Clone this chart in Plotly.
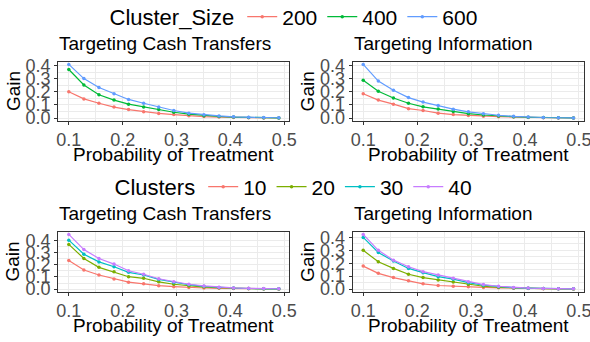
import plotly.graph_objects as go

# ---------------- data ----------------
prob = [0.1, 0.128, 0.156, 0.184, 0.211, 0.239, 0.267, 0.295, 0.323, 0.351,
        0.379, 0.406, 0.434, 0.462, 0.49]

size_levels = ["200", "400", "600"]
cash_size = {
    "200": [0.200, 0.146, 0.113, 0.084, 0.065, 0.048, 0.036, 0.027, 0.018, 0.012, 0.008, 0.005, 0.003, 0.002, 0.001],
    "400": [0.369, 0.252, 0.178, 0.137, 0.106, 0.084, 0.065, 0.045, 0.030, 0.019, 0.013, 0.008, 0.005, 0.003, 0.002],
    "600": [0.408, 0.300, 0.233, 0.185, 0.142, 0.113, 0.084, 0.058, 0.038, 0.026, 0.017, 0.010, 0.006, 0.004, 0.003],
}
info_size = {
    "200": [0.185, 0.137, 0.106, 0.072, 0.058, 0.038, 0.027, 0.020, 0.015, 0.011, 0.008, 0.005, 0.003, 0.002, 0.001],
    "400": [0.288, 0.204, 0.153, 0.113, 0.086, 0.070, 0.050, 0.034, 0.024, 0.016, 0.011, 0.007, 0.004, 0.003, 0.002],
    "600": [0.408, 0.281, 0.211, 0.156, 0.122, 0.096, 0.068, 0.048, 0.034, 0.022, 0.014, 0.008, 0.005, 0.003, 0.002],
}

cluster_levels = ["10", "20", "30", "40"]
cash_clusters = {
    "10": [0.236, 0.157, 0.116, 0.084, 0.057, 0.043, 0.028, 0.020, 0.013, 0.009, 0.006, 0.004, 0.002, 0.001, 0.001],
    "20": [0.368, 0.252, 0.179, 0.143, 0.102, 0.089, 0.060, 0.040, 0.026, 0.017, 0.011, 0.007, 0.004, 0.002, 0.001],
    "30": [0.403, 0.287, 0.224, 0.184, 0.138, 0.116, 0.080, 0.055, 0.036, 0.023, 0.014, 0.009, 0.005, 0.003, 0.002],
    "40": [0.450, 0.325, 0.252, 0.206, 0.151, 0.122, 0.085, 0.060, 0.040, 0.026, 0.016, 0.010, 0.006, 0.004, 0.003],
}
info_clusters = {
    "10": [0.178, 0.122, 0.089, 0.064, 0.041, 0.028, 0.022, 0.018, 0.013, 0.010, 0.007, 0.005, 0.003, 0.002, 0.001],
    "20": [0.300, 0.211, 0.160, 0.115, 0.089, 0.071, 0.054, 0.036, 0.022, 0.014, 0.009, 0.006, 0.004, 0.002, 0.001],
    "30": [0.400, 0.283, 0.217, 0.160, 0.127, 0.096, 0.077, 0.050, 0.030, 0.019, 0.011, 0.007, 0.004, 0.003, 0.002],
    "40": [0.423, 0.300, 0.224, 0.173, 0.135, 0.109, 0.084, 0.057, 0.035, 0.022, 0.013, 0.008, 0.005, 0.003, 0.002],
}

size_colors = ["#F8766D", "#00BA38", "#619CFF"]
cluster_colors = ["#F8766D", "#7CAE00", "#00BFC4", "#C77CFF"]

panel_titles = ["Targeting Cash Transfers", "Targeting Information",
                "Targeting Cash Transfers", "Targeting Information"]
x_title = "Probability of Treatment"
y_title = "Gain"
x_ticks = [0.1, 0.2, 0.3, 0.4, 0.5]
y_ticks = [0.0, 0.1, 0.2, 0.3, 0.4]

# ---------------- layout geometry ----------------
# figure is slightly wider than the 590px window so the last tick label is cut like the original
W, H = 600, 342
FONT = "Liberation Sans, Arial, sans-serif"

def px_x(v):
    return v / W

def px_y(v):
    return 1 - v / H

# panel boxes in pixels (left, right, top, bottom)
panels = [
    (58.3, 289.3, 61.7, 120.7),
    (352.7, 584.0, 61.7, 120.7),
    (58.3, 289.3, 231.7, 291.7),
    (352.7, 584.0, 231.7, 291.7),
]

fig = go.Figure()

datasets = [
    (cash_size, size_levels, size_colors, "legend"),
    (info_size, size_levels, size_colors, "legend"),
    (cash_clusters, cluster_levels, cluster_colors, "legend2"),
    (info_clusters, cluster_levels, cluster_colors, "legend2"),
]

xr = [min(prob) - 0.05 * (max(prob) - min(prob)), max(prob) + 0.05 * (max(prob) - min(prob))]

annotations = []
for i, ((data, levels, colors, leg), (l, r, t, b)) in enumerate(zip(datasets, panels)):
    ax = "" if i == 0 else str(i + 1)
    for lev, col in zip(levels, colors):
        fig.add_trace(go.Scatter(
            x=prob, y=data[lev], mode="lines+markers", name=lev,
            line=dict(color=col, width=1.2), marker=dict(color=col, size=3.5),
            xaxis="x" + ax, yaxis="y" + ax, legend=leg,
            legendgroup=leg + lev, showlegend=(i in (0, 2)),
        ))
    allv = [v for lev in levels for v in data[lev]]
    lo, hi = min(allv), max(allv)
    yr = [lo - 0.05 * (hi - lo), hi + 0.05 * (hi - lo)]
    axis_common = dict(
        automargin=False,
        showline=True, mirror=True, linecolor="#333333", linewidth=1.1,
        ticks="outside", ticklen=3, tickwidth=1.1, tickcolor="#333333",
        showgrid=True, gridcolor="#EBEBEB", gridwidth=1.1, zeroline=False,
        tickfont=dict(family=FONT, size=18, color="#4D4D4D"),
        minor=dict(showgrid=True, gridcolor="#EBEBEB", gridwidth=0.55, ticks=""),
    )
    fig.update_layout(**{
        "xaxis" + ax: dict(
            domain=[px_x(l), px_x(r)], anchor="y" + ax, range=xr,
            tickmode="array", tickvals=x_ticks, ticktext=[f"{v:.1f}" for v in x_ticks],
            minor_tickmode="array", minor_tickvals=[0.15, 0.25, 0.35, 0.45],
            **axis_common),
        "yaxis" + ax: dict(
            domain=[px_y(b), px_y(t)], anchor="x" + ax, range=yr,
            tickmode="array", tickvals=y_ticks, ticktext=[f"{v:.1f}" for v in y_ticks],
            minor_tickmode="array", minor_tickvals=[0.05, 0.15, 0.25, 0.35],
            **axis_common),
    })
    # panel title, left aligned to the panel
    annotations.append(dict(
        text=panel_titles[i], x=px_x(l - 1), y=px_y(t - 18), xref="paper", yref="paper",
        xanchor="left", yanchor="middle", showarrow=False,
        font=dict(family=FONT, size=19, color="black")))
    # x axis title
    annotations.append(dict(
        text=x_title, x=px_x((l + r) / 2), y=px_y(b + 34), xref="paper", yref="paper",
        xanchor="center", yanchor="middle", showarrow=False,
        font=dict(family=FONT, size=19, color="black")))
    # y axis title
    annotations.append(dict(
        text=y_title, x=px_x(l - 45.5), y=px_y((t + b) / 2), xref="paper", yref="paper",
        xanchor="center", yanchor="middle", textangle=-90, showarrow=False,
        font=dict(family=FONT, size=19, color="black")))

legend_common = dict(
    orientation="h", xanchor="center", yanchor="middle",
    bgcolor="rgba(0,0,0,0)", font=dict(family=FONT, size=21, color="black"),
    itemwidth=30, tracegroupgap=0,
)
fig.update_layout(
    width=W, height=H, margin=dict(l=0, r=0, t=0, b=0, autoexpand=False),
    paper_bgcolor="white", plot_bgcolor="white",
    font=dict(family=FONT),
    annotations=annotations,
    legend=dict(title=dict(text="Cluster_Size", side="left", font=dict(family=FONT, size=22)),
                x=px_x(295), y=px_y(17), **legend_common),
    legend2=dict(title=dict(text="Clusters", side="left", font=dict(family=FONT, size=22)),
                 x=px_x(295), y=px_y(187), **legend_common),
)

fig.write_html(
    "out.html",
    config={"displayModeBar": False},
    post_script="document.body.style.margin='0px';document.body.style.overflow='hidden';",
)
